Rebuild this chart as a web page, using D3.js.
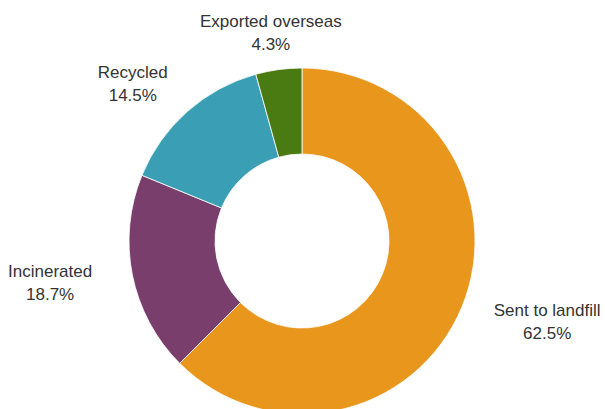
<!DOCTYPE html>
<html>
<head>
<meta charset="utf-8">
<script src="https://cdn.jsdelivr.net/npm/d3@7/dist/d3.min.js"></script>
<style>
  html, body { margin: 0; padding: 0; background: #fff; }
  svg { display: block; }
</style>
</head>
<body>
<svg id="chart" width="605" height="409"></svg>
<script>
// Waste destinations (share of total, %)
const categories = ["Sent to landfill", "Incinerated", "Recycled", "Exported overseas"];
const shares = [62.5, 18.7, 14.5, 4.3];
const sliceColors = ["#E8961C", "#7A3E6C", "#3A9FB4", "#4A7A12"];

const width = 605, height = 409;
const cx = 302, cy = 241;
const outerR = 173, innerR = 87;
// Labels sit on an ellipse around the ring, nudged slightly right
const labelRx = 261, labelRy = 210, labelShiftX = 4;
const lineGap = 23;
const fontSize = 17;

const svg = d3.select("#chart");
const g = svg.append("g").attr("transform", `translate(${cx},${cy})`);

const pie = d3.pie().sort(null).value(d => d.value);
const arcs = pie(categories.map((c, i) => ({ name: c, value: shares[i], color: sliceColors[i] })));

const arc = d3.arc().innerRadius(innerR).outerRadius(outerR);

g.selectAll("path.slice")
  .data(arcs)
  .join("path")
  .attr("class", "slice")
  .attr("d", arc)
  .attr("fill", d => d.data.color)
  .attr("stroke", "#fff")
  .attr("stroke-width", 0.8);

const fmt = d3.format(".1f");

const labels = g.selectAll("text.label")
  .data(arcs)
  .join("text")
  .attr("class", "label")
  .attr("text-anchor", "middle")
  .attr("font-family", "'Liberation Sans', Arial, sans-serif")
  .attr("font-size", fontSize)
  .attr("fill", "#333")
  .attr("transform", d => {
    const mid = (d.startAngle + d.endAngle) / 2;
    const x = labelRx * Math.sin(mid) + labelShiftX;
    const y = -labelRy * Math.cos(mid);
    // centre the two-line block vertically on the label point
    const top = y - (lineGap - fontSize * 0.716) / 2;
    return `translate(${x},${top})`;
  });

labels.append("tspan")
  .attr("x", 0)
  .attr("y", 0)
  .text(d => d.data.name);

labels.append("tspan")
  .attr("x", 0)
  .attr("y", lineGap)
  .text(d => fmt(d.data.value) + "%");
</script>
</body>
</html>
